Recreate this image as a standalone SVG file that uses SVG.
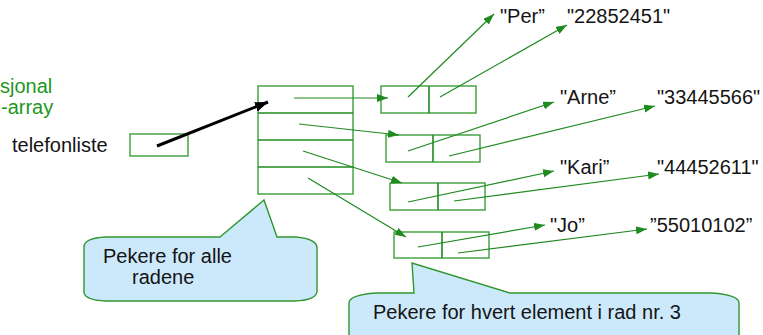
<svg xmlns="http://www.w3.org/2000/svg" width="763" height="335" viewBox="0 0 763 335">
<style>
text{font-family:"Liberation Sans",Arial,sans-serif;font-size:20px;fill:#141414}
.g{fill:#1e961e}
.box{fill:none;stroke:#3a9e3a;stroke-width:1.4}
.div{fill:none;stroke:#1f8a1f;stroke-width:1.6}
.ptr{fill:none;stroke:#1f8a1f;stroke-width:1.2;marker-end:url(#ah)}
.call{fill:#cce9fb;stroke:#2f962f;stroke-width:1.4}
</style>
<defs>
<marker id="ah" markerUnits="userSpaceOnUse" markerWidth="12" markerHeight="10" refX="11" refY="4" orient="auto">
<path d="M0,0 L11,4 L0,8 Z" fill="#1f8a1f"/>
</marker>
<marker id="ahb" markerUnits="userSpaceOnUse" markerWidth="14" markerHeight="12" refX="13" refY="5" orient="auto">
<path d="M0,0 L13,5 L0,10 Z" fill="#000"/>
</marker>
</defs>
<rect width="763" height="335" fill="#fff"/>
<g id="title">
<text class="g" x="0" y="93">sjonal</text>
<text class="g" x="1" y="114">-array</text>
</g>
<g id="telefonliste">
<text x="12" y="152">telefonliste</text>
<rect class="box" x="130" y="134" width="58" height="22"/>
</g>
<g id="table">
<rect class="box" x="258" y="86" width="95" height="108" stroke="#66b866"/>
<path class="div" d="M258,113H353M258,140H353M258,167H353"/>
</g>
<g id="rec1">
<rect class="box" x="381" y="86" width="95" height="27"/>
<path class="div" d="M429,86V113"/>
</g>
<g id="rec2">
<rect class="box" x="386" y="135" width="94" height="27"/>
<path class="div" d="M433,135V162"/>
</g>
<g id="rec3">
<rect class="box" x="390" y="183" width="95" height="27"/>
<path class="div" d="M438,183V210"/>
</g>
<g id="rec4">
<rect class="box" x="394" y="232" width="95" height="26"/>
<path class="div" d="M442,232V258"/>
</g>
<g id="strings">
<text x="500" y="23">"Per”</text>
<text x="567" y="23">"22852451"</text>
<text x="560" y="104">"Arne”</text>
<text x="657" y="104">"33445566"</text>
<text x="560" y="174">"Kari”</text>
<text x="657" y="174">"44452611"</text>
<text x="550" y="232">"Jo”</text>
<text x="650" y="232">”55010102”</text>
</g>
<g id="callout1">
<path class="call" d="M220,237 L264,200 L277,237 L296,237 Q317,239 317,248 L317,291 Q317,300 295,301 L106,301 Q84,300 84,292 L84,247 Q84,238 106,237 Z"/>
<text x="103" y="263">Pekere for alle</text>
<text x="132" y="284">radene</text>
</g>
<g id="callout2">
<path class="call" d="M414,293 L412,263 L510,293 L712,293 Q739,295 739,303 L739,338 Q739,346 712,347 L376,347 Q349,346 349,338 L349,303 Q349,295 376,293 Z"/>
<text x="373" y="319">Pekere for hvert element i rad nr. 3</text>
</g>
<g id="connectors">
<line x1="157" y1="146" x2="268" y2="102" stroke="#000" stroke-width="3" marker-end="url(#ahb)"/>
<path class="ptr" d="M294,98 L388,98"/>
<path class="ptr" d="M299,124 L399,135"/>
<path class="ptr" d="M303,151 L402,183"/>
<path class="ptr" d="M308,178 L406,237"/>
<path class="ptr" d="M408,97 L494,14"/>
<path class="ptr" d="M440,97 L567,25"/>
<path class="ptr" d="M408,151 L554,102"/>
<path class="ptr" d="M449,156 L655,106"/>
<path class="ptr" d="M408,202 L554,171"/>
<path class="ptr" d="M454,201 L659,174"/>
<path class="ptr" d="M418,247 L545,225"/>
<path class="ptr" d="M458,253 L647,229"/>
</g>
</svg>
